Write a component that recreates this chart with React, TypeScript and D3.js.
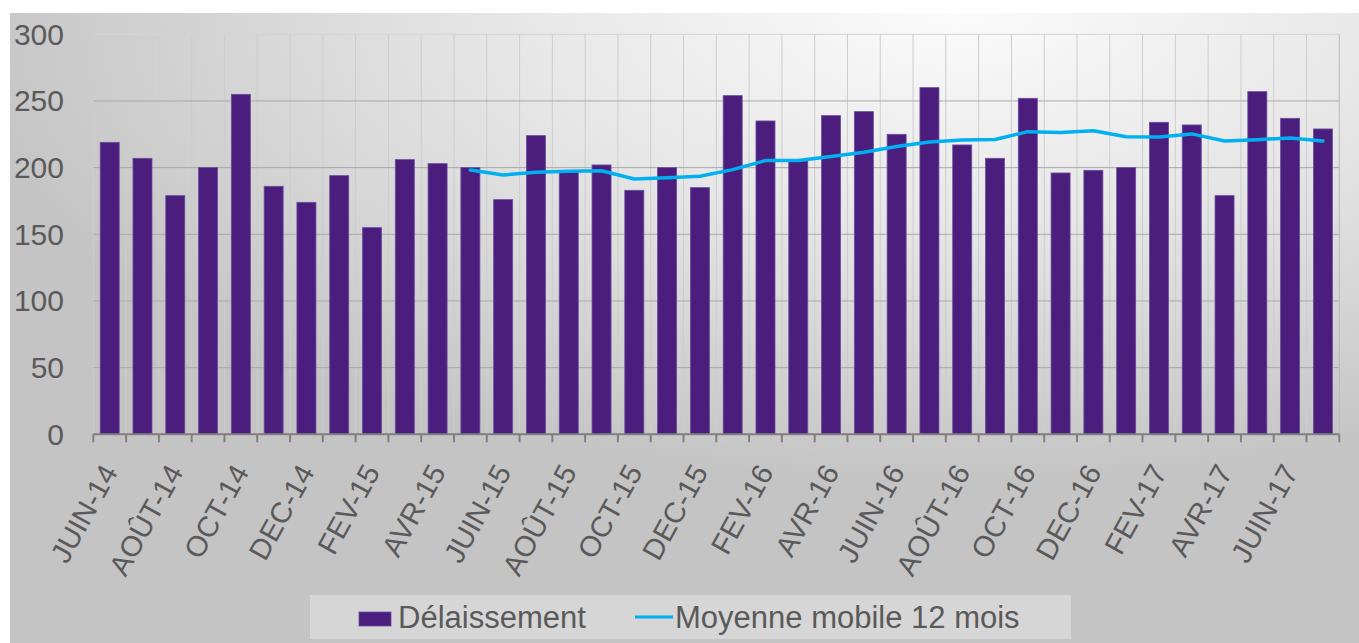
import React from "react";
import * as d3 from "d3";

const months = ["JUIN-14","JUIL-14","AOÛT-14","SEPT-14","OCT-14","NOV-14","DEC-14","JANV-15","FEV-15","MARS-15","AVR-15","MAI-15","JUIN-15","JUIL-15","AOÛT-15","SEPT-15","OCT-15","NOV-15","DEC-15","JANV-16","FEV-16","MARS-16","AVR-16","MAI-16","JUIN-16","JUIL-16","AOÛT-16","SEPT-16","OCT-16","NOV-16","DEC-16","JANV-17","FEV-17","MARS-17","AVR-17","MAI-17","JUIN-17","JUIL-17"];

const delaissement = [219,207,179,200,255,186,174,194,155,206,203,200,176,224,197,202,183,200,185,254,235,205,239,242,225,260,217,207,252,196,198,200,234,232,179,257,237,229];

const moyenneMobile: (number | null)[] = [null,null,null,null,null,null,null,null,null,null,null,198.2,194.5,196.5,197.3,197.7,191.5,192.5,193.5,198.5,205.3,205.3,208.3,211.5,215.8,219.3,220.7,221.1,227,226.4,227.6,223.1,223,225.3,220,221,222.3,220];

const yTicks = [0, 50, 100, 150, 200, 250, 300];

const seriesNames = ["Délaissement", "Moyenne mobile 12 mois"];

export default function App() {
  const W = 1359, H = 643;
  const left = 93.3, right = 1339.3, top = 34.3, bottom = 434.3;
  const x = d3.scaleBand<string>().domain(months).range([left, right]).padding(0);
  const y = d3.scaleLinear().domain([0, 300]).range([bottom, top]);
  const bw = x.bandwidth();
  const barW = bw * 0.58;
  const font = "'Liberation Sans', Arial, sans-serif";
  const textColor = "#5a5a5a";

  const line = d3.line<number | null>()
    .defined((d) => d != null)
    .x((_, i) => (x(months[i]) as number) + bw / 2)
    .y((d) => y(d as number))
    .curve(d3.curveLinear);

  const boundaries = d3.range(months.length + 1).map((i) => left + i * bw);

  return (
    <svg width={W} height={H} style={{ position: "absolute", left: 0, top: 0 }} fontFamily={font}>
      <defs>
        <radialGradient id="bg" cx="0.7" cy="0.0" r="0.75" fx="0.7" fy="0.0">
          <stop offset="0" stopColor="#fbfbfb" />
          <stop offset="0.45" stopColor="#e6e6e6" />
          <stop offset="1" stopColor="#c4c4c4" />
        </radialGradient>
      </defs>
      <rect x={0} y={0} width={W} height={H} fill="#ffffff" />
      <rect x={10} y={13} width={W - 10} height={H - 13} fill="url(#bg)" />

      {boundaries.map((bx, i) => (
        <line key={"vg" + i} x1={bx} x2={bx} y1={top} y2={bottom} stroke={i === months.length ? "#b8b8b8" : "#cdcdcd"} strokeWidth={1} />
      ))}
      {yTicks.map((t) => (
        <line key={"hg" + t} x1={left} x2={right} y1={y(t)} y2={y(t)} stroke={t === 300 ? "#d4d4d4" : "#a9a9a9"} strokeWidth={1} />
      ))}

      {delaissement.map((v, i) => (
        <rect key={"b" + i}
          x={(x(months[i]) as number) + (bw - barW) / 2}
          y={y(v)}
          width={barW}
          height={y(0) - y(v)}
          fill="#4b1e7e"
          stroke="#6b4d9c"
          strokeWidth={0.8}
        />
      ))}

      <path d={line(moyenneMobile) || ""} fill="none" stroke="#00b0f0" strokeWidth={3.5} strokeLinejoin="round" strokeLinecap="round" />

      <line x1={left} x2={right} y1={bottom} y2={bottom} stroke="#7f7f7f" strokeWidth={2} />
      {boundaries.map((bx, i) => (
        <line key={"tk" + i} x1={bx} x2={bx} y1={bottom} y2={bottom + 8} stroke="#7f7f7f" strokeWidth={2} />
      ))}

      {yTicks.map((t) => (
        <text key={"yl" + t} x={64} y={y(t)} dy="0.35em" textAnchor="end" fontSize={30} fill={textColor}>{t}</text>
      ))}

      {months.map((m, i) => i % 2 === 0 ? (
        <text key={"xl" + i}
          transform={`translate(${(x(m) as number) + bw / 2},${467}) rotate(-61)`}
          dy="0.35em" textAnchor="end" fontSize={29} fill={textColor}>{m}</text>
      ) : null)}

      <rect x={310} y={595} width={761} height={44} fill="#ffffff" fillOpacity={0.3} />
      <rect x={359} y={612} width={32} height={14} fill="#4b1e7e" stroke="#6b4d9c" strokeWidth={0.8} />
      <text x={398} y={628} fontSize={31} fill={textColor}>{seriesNames[0]}</text>
      <line x1={635} x2={673} y1={617} y2={617} stroke="#00b0f0" strokeWidth={3} />
      <text x={675} y={628} fontSize={31} fill={textColor}>{seriesNames[1]}</text>
    </svg>
  );
}
